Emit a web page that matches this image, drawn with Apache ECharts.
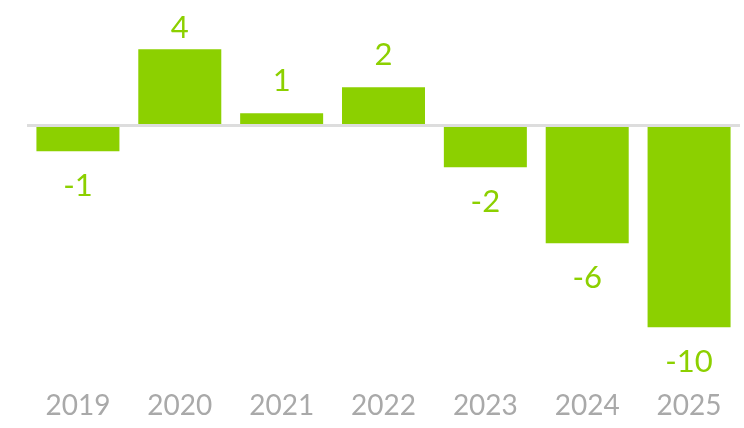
<!DOCTYPE html>
<html>
<head>
<meta charset="utf-8">
<script src="https://cdn.jsdelivr.net/npm/echarts@6/dist/echarts.min.js"></script>
<style>
html,body{margin:0;padding:0;background:#fff;}
#chart{width:744px;height:428px;}
</style>
</head>
<body>
<div id="chart"></div>
<script>
const categories = ['2019', '2020', '2021', '2022', '2023', '2024', '2025'];
const values = [-1.3, 3.8, 0.6, 1.9, -2.1, -5.9, -10.1];

const GREEN = '#8cd000';
const chart = echarts.init(document.getElementById('chart'));

const seriesData = values.map(function (v, i) {
  const item = { value: v };
  if (v < 0) {
    item.label = { position: 'bottom', distance: 19 };
  } else if (i === 1) {
    item.label = { distance: 6 };
  }
  return item;
});

chart.setOption({
  animation: false,
  backgroundColor: '#ffffff',
  grid: { left: 27, right: 4, top: 25.3, height: 320, containLabel: false },
  xAxis: {
    type: 'category',
    data: categories,
    axisLine: { show: false, onZero: false },
    axisTick: { show: false },
    axisLabel: {
      margin: 47,
      color: '#a9a9a9',
      fontSize: 28,
      fontFamily: 'Lato',
      fontWeight: 'normal'
    }
  },
  yAxis: {
    type: 'value',
    min: -11,
    max: 5,
    show: false,
    splitLine: { show: false }
  },
  series: [{
    type: 'bar',
    data: seriesData,
    barWidth: 83,
    itemStyle: { color: GREEN },
    label: {
      show: true,
      position: 'top',
      distance: 17,
      color: GREEN,
      fontSize: 31,
      fontFamily: 'Lato',
      formatter: function (p) { return String(Math.round(p.value)); }
    },
    markLine: {
      silent: true,
      symbol: 'none',
      label: { show: false },
      lineStyle: { color: '#dddddd', width: 3, type: 'solid' },
      data: [{ yAxis: 0 }]
    }
  }]
});
</script>
</body>
</html>
